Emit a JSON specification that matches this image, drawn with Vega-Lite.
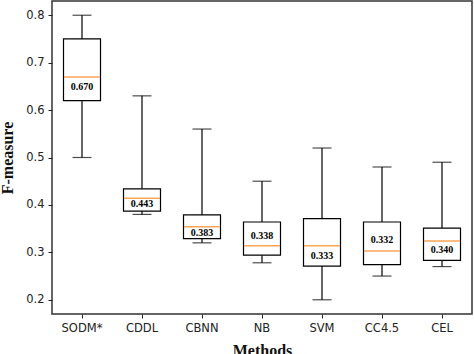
{
  "$schema": "https://vega.github.io/schema/vega-lite/v6.json",
  "width": 420,
  "height": 313,
  "autosize": {"type": "none"},
  "padding": {"left": 52, "top": 1, "right": 2, "bottom": 40},
  "background": "white",
  "config": {
    "view": {"stroke": "#333", "strokeWidth": 1.5},
    "axis": {
      "grid": false,
      "domain": false,
      "tickColor": "#222",
      "tickSize": 4,
      "tickWidth": 1,
      "labelFont": "DejaVu Sans",
      "labelFontSize": 11.5,
      "labelColor": "#222",
      "labelPadding": 4,
      "titleFont": "Liberation Serif",
      "titleFontWeight": "bold",
      "titleFontSize": 16,
      "titleColor": "#111"
    }
  },
  "data": {
    "values": [
      {"method": "SODM*", "lower": 0.50, "q1": 0.62, "median": 0.670, "q3": 0.75, "upper": 0.80, "mean": "0.670", "label_y": 0.649},
      {"method": "CDDL", "lower": 0.38, "q1": 0.387, "median": 0.414, "q3": 0.434, "upper": 0.63, "mean": "0.443", "label_y": 0.401},
      {"method": "CBNN", "lower": 0.32, "q1": 0.329, "median": 0.354, "q3": 0.379, "upper": 0.56, "mean": "0.383", "label_y": 0.341},
      {"method": "NB", "lower": 0.278, "q1": 0.294, "median": 0.314, "q3": 0.364, "upper": 0.45, "mean": "0.338", "label_y": 0.334},
      {"method": "SVM", "lower": 0.20, "q1": 0.271, "median": 0.314, "q3": 0.371, "upper": 0.52, "mean": "0.333", "label_y": 0.293},
      {"method": "CC4.5", "lower": 0.25, "q1": 0.274, "median": 0.303, "q3": 0.364, "upper": 0.48, "mean": "0.332", "label_y": 0.327},
      {"method": "CEL", "lower": 0.27, "q1": 0.283, "median": 0.324, "q3": 0.351, "upper": 0.49, "mean": "0.340", "label_y": 0.304}
    ]
  },
  "encoding": {
    "x": {
      "field": "method",
      "type": "nominal",
      "sort": null,
      "scale": {"paddingInner": 0, "paddingOuter": 0},
      "axis": {"title": "Methods", "labelAngle": 0, "titlePadding": 9}
    }
  },
  "layer": [
    {
      "mark": {"type": "rule", "color": "black", "strokeWidth": 1.2},
      "encoding": {
        "y": {
          "field": "lower",
          "type": "quantitative",
          "scale": {"domain": [0.17, 0.83], "nice": false, "zero": false},
          "axis": {"title": "F-measure", "values": [0.2, 0.3, 0.4, 0.5, 0.6, 0.7, 0.8], "format": ".1f", "titlePadding": 10}
        },
        "y2": {"field": "q1"}
      }
    },
    {
      "mark": {"type": "rule", "color": "black", "strokeWidth": 1.2},
      "encoding": {
        "y": {"field": "q3", "type": "quantitative"},
        "y2": {"field": "upper"}
      }
    },
    {
      "mark": {"type": "bar", "size": 37, "fill": "white", "stroke": "black", "strokeWidth": 1.2},
      "encoding": {
        "y": {"field": "q1", "type": "quantitative"},
        "y2": {"field": "q3"}
      }
    },
    {
      "mark": {"type": "tick", "size": 19, "thickness": 1.2, "color": "black"},
      "encoding": {"y": {"field": "lower", "type": "quantitative"}}
    },
    {
      "mark": {"type": "tick", "size": 19, "thickness": 1.2, "color": "black"},
      "encoding": {"y": {"field": "upper", "type": "quantitative"}}
    },
    {
      "mark": {"type": "tick", "size": 36, "thickness": 1.5, "color": "#ff7f0e"},
      "encoding": {"y": {"field": "median", "type": "quantitative"}}
    },
    {
      "mark": {"type": "text", "font": "Liberation Serif", "fontWeight": "bold", "fontSize": 10, "color": "black", "baseline": "middle"},
      "encoding": {
        "y": {"field": "label_y", "type": "quantitative"},
        "text": {"field": "mean"}
      }
    }
  ]
}
